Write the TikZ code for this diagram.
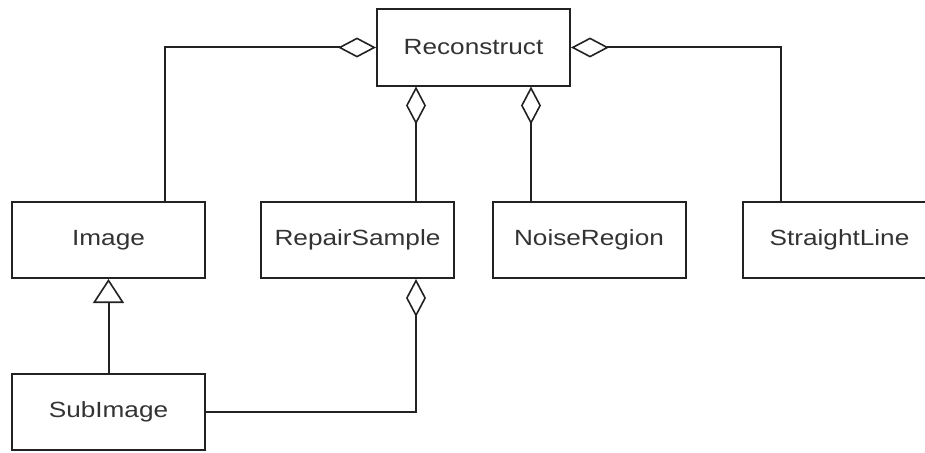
\documentclass[tikz,border=0pt]{standalone}
\usepackage{fontspec}
\setmainfont{Liberation Sans}[FakeStretch=1.19]
\usetikzlibrary{arrows.meta}
\definecolor{txt}{HTML}{333333}
\definecolor{ln}{HTML}{222222}
\begin{document}
\begin{tikzpicture}[x=1pt,y=-1pt,
  cls/.style={draw=ln,line width=2pt,minimum width=193pt,minimum height=76pt,
    inner sep=0pt,text=txt,font=\fontsize{22}{26}\selectfont},
  link/.style={draw=ln,line width=2pt},
  agg/.style={link,-{Diamond[open,length=38pt,width=20pt,line width=1.6pt]}},
  gen/.style={link,-{Triangle[open,length=24pt,width=31pt,line width=1.6pt]}}]
\useasboundingbox (0,0) rectangle (925,452);
\clip (0,0) rectangle (925,452);
% classes
\node[cls] (rec) at (473.5,47.5) {Reconstruct};
\node[cls] (img) at (108.5,240) {Image};
\node[cls] (rs)  at (357.5,240) {RepairSample};
\node[cls] (nr)  at (589,240) {NoiseRegion};
\node[cls] (sl)  at (839.5,240) {StraightLine};
\node[cls] (sub) at (108.5,411.5) {SubImage};
% aggregations into Reconstruct
\draw[agg] ([xshift=56.5pt]img.north) |- (rec.west);
\draw[agg] ([xshift=-58.5pt]sl.north) |- (rec.east);
\draw[agg] ([xshift=58.5pt]rs.north) -- ([xshift=58.5pt]rs.north |- rec.south);
\draw[agg] ([xshift=-58pt]nr.north) -- ([xshift=-58pt]nr.north |- rec.south);
% SubImage relations
\draw[gen] (sub.north) -- (img.south);
\draw[agg] (sub.east) -| ([xshift=58.5pt]rs.south);
\end{tikzpicture}
\end{document}
